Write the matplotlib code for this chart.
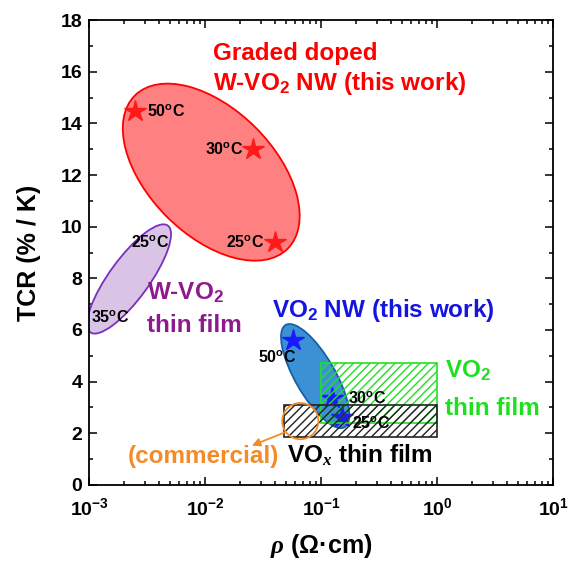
import matplotlib
matplotlib.use('Agg')
import matplotlib.pyplot as plt
from matplotlib.patches import Ellipse, Rectangle, Circle
from matplotlib.ticker import LogLocator, MultipleLocator, NullFormatter

plt.rcParams['font.family'] = ['Liberation Sans', 'DejaVu Sans']
plt.rcParams['font.weight'] = 'bold'
plt.rcParams['mathtext.fontset'] = 'custom'
plt.rcParams['mathtext.rm'] = 'Liberation Sans:bold'
plt.rcParams['mathtext.bf'] = 'Liberation Sans:bold'
plt.rcParams['mathtext.it'] = 'Liberation Serif:italic'

# stars: graded doped W-VO2 NW (this work)
red_rho = [0.0025, 0.026, 0.040]
red_tcr = [14.5, 13.0, 9.4]
red_temp = ['50', '30', '25']

# stars: VO2 NW (this work)
blue_rho = [0.057, 0.124, 0.15]
blue_tcr = [5.6, 3.37, 2.64]
blue_temp = ['50', '30', '25']

# ranges of thin films (rho min, rho max, tcr min, tcr max)
vo2_film = [0.1, 1.0, 2.4, 4.7]
vox_film = [0.048, 1.0, 1.85, 3.1]

fig = plt.figure(figsize=(5.68, 5.63), dpi=100)
ax = fig.add_axes([0.157, 0.139, 0.817, 0.825])
ax.set_xscale('log')
ax.set_xlim(1e-3, 10)
ax.set_ylim(0, 18)

# ellipses (axes fraction, axes is about square)
ax.add_patch(Ellipse((0.263, 0.673), 0.466, 0.271, angle=-45, transform=ax.transAxes,
                     facecolor='#FF8080', edgecolor='#FF0000', lw=1.3, zorder=2))
ax.add_patch(Ellipse((0.086, 0.443), 0.284, 0.086, angle=54, transform=ax.transAxes,
                     facecolor='#D9C4E6', edgecolor='#7B2FBE', lw=1.3, zorder=2))
ax.add_patch(Ellipse((0.487, 0.234), 0.254, 0.086, angle=-60, transform=ax.transAxes,
                     facecolor='#3C90D4', edgecolor='#1560A8', lw=1.3, zorder=2))

# stars
ax.plot(red_rho, red_tcr, '*', color='#FF1A1A', ms=16, mec='#FF1A1A', zorder=4)
ax.plot(blue_rho, blue_tcr, '*', color='#1A1AFF', ms=16, mec='#1A1AFF', zorder=3)

# hatched rectangles
ax.add_patch(Rectangle((vo2_film[0], vo2_film[2]), vo2_film[1] - vo2_film[0], vo2_film[3] - vo2_film[2],
                       facecolor='none', edgecolor='#22E022', hatch='////', lw=1.2, zorder=4))
ax.add_patch(Rectangle((vox_film[0], vox_film[2]), vox_film[1] - vox_film[0], vox_film[3] - vox_film[2],
                       facecolor='none', edgecolor='#222222', hatch='////', lw=1.2, zorder=4))

# orange circle + arrow
ax.add_patch(Circle((0.455, 0.137), 0.039, transform=ax.transAxes, facecolor='none',
                    edgecolor='#F28C28', lw=1.3, zorder=5))
ax.annotate('', xy=(0.345, 0.082), xytext=(0.427, 0.115), xycoords='axes fraction',
            arrowprops=dict(arrowstyle='-|>', color='#F28C28', lw=1.3, mutation_scale=12), zorder=5)

# temperature labels
def deg(t):
    return t + '$^{\\mathrm{o}}$C'

red_off = [(12, 0, 'left'), (-10, 0, 'right'), (-11, 0, 'right')]
for r, t, lab, (dx, dy, ha) in zip(red_rho, red_tcr, red_temp, red_off):
    ax.annotate(deg(lab), (r, t), xytext=(dx, dy), textcoords='offset pixels',
                ha=ha, va='center', fontsize=11.5, fontweight='bold', zorder=6)

blue_off = [(-16, -17, 'center'), (16, 0, 'left'), (10, -6, 'left')]
for r, t, lab, (dx, dy, ha) in zip(blue_rho, blue_tcr, blue_temp, blue_off):
    ax.annotate(deg(lab), (r, t), xytext=(dx, dy), textcoords='offset pixels',
                ha=ha, va='center', fontsize=11.5, fontweight='bold', zorder=6)

ax.text(0.131, 0.523, deg('25'), transform=ax.transAxes, ha='center', va='center', fontsize=11.5, zorder=6)
ax.text(0.045, 0.361, deg('35'), transform=ax.transAxes, ha='center', va='center', fontsize=11.5, zorder=6)

# group labels
fs = 17.5
ax.text(0.267, 0.914, 'Graded doped', transform=ax.transAxes, color='#FF0000', fontsize=fs)
ax.text(0.267, 0.850, 'W-VO$_\\mathbf{2}$ NW (this work)', transform=ax.transAxes, color='#FF0000', fontsize=fs)
ax.text(0.125, 0.398, 'W-VO$_\\mathbf{2}$', transform=ax.transAxes, color='#8E1B8E', fontsize=fs)
ax.text(0.125, 0.329, 'thin film', transform=ax.transAxes, color='#8E1B8E', fontsize=fs)
ax.text(0.394, 0.361, 'VO$_\\mathbf{2}$ NW (this work)', transform=ax.transAxes, color='#1515E0', fontsize=fs)
ax.text(0.767, 0.230, 'VO$_\\mathbf{2}$', transform=ax.transAxes, color='#1FE01F', fontsize=fs)
ax.text(0.767, 0.150, 'thin film', transform=ax.transAxes, color='#1FE01F', fontsize=fs)
ax.text(0.427, 0.047, 'VO$_{\\mathit{x}}$ thin film', transform=ax.transAxes, color='black', fontsize=fs)
ax.text(0.410, 0.047, '(commercial)', transform=ax.transAxes, color='#F28C28', fontsize=fs, ha='right')

# axes styling
ax.set_xlabel('$\\mathit{\\rho}$ (Ω·cm)', fontsize=18, fontweight='bold', labelpad=9)
ax.set_ylabel('TCR (% / K)', fontsize=18, fontweight='bold', labelpad=14)
ax.yaxis.set_major_locator(MultipleLocator(2))
ax.yaxis.set_minor_locator(MultipleLocator(1))
ax.xaxis.set_major_locator(LogLocator(base=10, numticks=10))
ax.xaxis.set_minor_locator(LogLocator(base=10, subs=range(2, 10), numticks=20))
ax.xaxis.set_minor_formatter(NullFormatter())
ax.tick_params(which='both', direction='in', top=True, right=True, labelsize=14, width=1.1)
ax.tick_params(which='major', length=6)
ax.tick_params(which='minor', length=3)
ax.tick_params(axis='x', pad=9)
ax.tick_params(axis='y', pad=5)
for s in ax.spines.values():
    s.set_linewidth(1.3)

fig.savefig('out.png', dpi=100)
